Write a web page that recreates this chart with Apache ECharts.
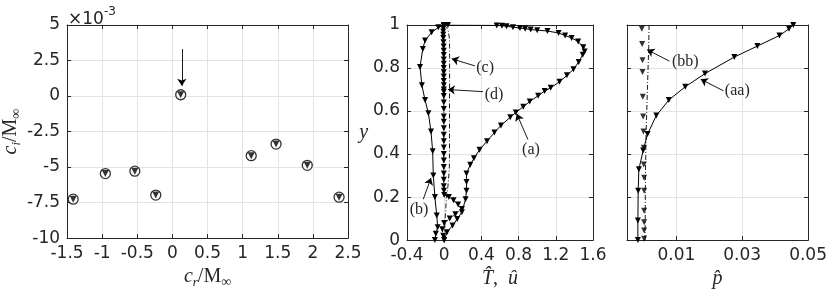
<!DOCTYPE html>
<html><head><meta charset="utf-8">
<script src="https://cdn.jsdelivr.net/npm/echarts@6/dist/echarts.min.js"></script>
<style>html,body{margin:0;padding:0;background:#fff}#c{width:830px;height:294px}</style>
</head><body><div id="c"></div>
<script>
// ---------- Left panel: eigenvalue spectrum (ci in units of 1e-3) ----------
const crValues   = [-1.413, -0.955, -0.535, -0.237, 0.118, 1.122, 1.476, 1.920, 2.373];
const ciValuesE3 = [-7.26, -5.46, -5.29, -6.97, 0.09, -4.20, -3.38, -4.88, -7.12];
const leftXTicks = [-1.5, 2.5, 0.5];   // min, max, step
const leftYTicks = [-10, 5, 2.5];

// ---------- Middle panel: T-hat, u-hat profiles ----------
const curveA_x = [0.00, 0.03, 0.09, 0.14, 0.19, 0.23, 0.24, 0.24, 0.24, 0.28, 0.32, 0.38, 0.46, 0.54, 0.61, 0.71, 0.77, 0.85, 0.92, 1.01, 1.08, 1.145, 1.24, 1.32, 1.39, 1.446, 1.49, 1.51, 1.496, 1.44, 1.37, 1.30, 1.23, 1.11, 1.00, 0.93, 0.87, 0.815, 0.74, 0.67, 0.62, 0.565, 0.04, 0.00];
const curveA_y = [0.000, 0.037, 0.068, 0.098, 0.130, 0.190, 0.230, 0.270, 0.310, 0.350, 0.380, 0.420, 0.460, 0.500, 0.533, 0.571, 0.593, 0.620, 0.644, 0.671, 0.693, 0.708, 0.736, 0.766, 0.794, 0.828, 0.862, 0.877, 0.897, 0.923, 0.940, 0.951, 0.963, 0.972, 0.976, 0.979, 0.983, 0.986, 0.990, 0.994, 0.997, 0.998, 1.000, 1.000];
const curveB_x = [0.00, -0.063, -0.135, -0.206, -0.23, -0.26, -0.24, -0.206, -0.17, -0.142, -0.124, -0.117, -0.10, -0.08, -0.07, -0.09, -0.10];
const curveB_y = [1.000, 0.989, 0.966, 0.928, 0.889, 0.805, 0.720, 0.651, 0.590, 0.505, 0.413, 0.300, 0.200, 0.114, 0.060, 0.030, 0.000];
const curveC_x = [0.00, 0.025, 0.045, 0.055, 0.058, 0.058, 0.057, 0.057, 0.055, 0.04, 0.025, 0.01, 0.00];
const curveC_y = [1.00, 0.99, 0.97, 0.94, 0.90, 0.80, 0.60, 0.40, 0.33, 0.25, 0.20, 0.10, 0.00];
const curveD_x = [0.00, -0.005, -0.01, -0.01, -0.01, -0.01, -0.008, -0.006, -0.005, -0.005, -0.005, -0.005, -0.005, -0.005, -0.005, -0.005, -0.004, -0.004, -0.004, -0.004, -0.004, -0.004, -0.004, -0.004, -0.004, -0.004, -0.004, -0.004, -0.004, -0.004, -0.004, -0.004, -0.004, -0.004, -0.003, 0.00, 0.05, 0.10, 0.15, 0.19, 0.12, 0.06, 0.00, -0.02, -0.01, 0.00];
const curveD_y = [1.000, 0.995, 0.985, 0.970, 0.955, 0.940, 0.920, 0.900, 0.880, 0.860, 0.840, 0.820, 0.800, 0.780, 0.760, 0.740, 0.720, 0.700, 0.690, 0.670, 0.640, 0.610, 0.575, 0.550, 0.520, 0.490, 0.460, 0.430, 0.400, 0.370, 0.340, 0.310, 0.280, 0.250, 0.230, 0.210, 0.200, 0.185, 0.165, 0.145, 0.120, 0.100, 0.080, 0.050, 0.020, 0.000];
const midXTicks = [-0.4, 1.6, 0.4];
const yTicks = [0, 1, 0.2];

// ---------- Right panel: p-hat profiles ----------
const curveAA_x = [-0.0017, -0.0017, -0.0016, -0.0014, -0.0001, 0.00125, 0.0039, 0.0077, 0.0127, 0.0187, 0.0276, 0.0346, 0.0413, 0.0442, 0.0455];
const curveAA_y = [0.000, 0.091, 0.229, 0.329, 0.416, 0.493, 0.579, 0.651, 0.713, 0.774, 0.851, 0.902, 0.951, 0.982, 1.000];
const curveBB_x = [0.0017, 0.0016, 0.0012, 0.0008, 0.0006, 0.0005];
const curveBB_y = [1.0, 0.9, 0.7, 0.5, 0.3, 0.0];
const curveBBm_x = [-0.0005, -0.0004, -0.0003, -0.0003, -0.0002, -0.0001, 0.0, 0.0001, 0.0001, 0.0002, 0.0002, 0.0002, 0.0002, 0.0002, 0.0002];
const curveBBm_y = [0.982, 0.912, 0.836, 0.782, 0.667, 0.575, 0.505, 0.429, 0.352, 0.290, 0.229, 0.137, 0.083, 0.045, 0.006];
const rightXRange = [-0.005, 0.05];
const rightXTickValues = [0.01, 0.03, 0.05];

const zip = (a, b) => a.map((v, i) => [v, b[i]]);

const AX = '#262626', GRID = '#e3e3e3';
const tickFont = { fontFamily: 'DejaVu Sans', fontSize: 17, color: '#262626' };
const serif = 'Liberation Serif';

function baseAxis(extra) {
  return Object.assign({
    type: 'value',
    axisLine: { show: true, onZero: false, lineStyle: { color: AX, width: 1 } },
    axisTick: { show: true, inside: true, length: 4, lineStyle: { color: AX } },
    splitLine: { show: true, lineStyle: { color: GRID, width: 1 } },
    axisLabel: Object.assign({ margin: 7 }, tickFont)
  }, extra);
}
function mirror(extra) {
  return baseAxis(Object.assign({ axisLabel: { show: false }, splitLine: { show: false } }, extra));
}

const mathRich = {
  i: { fontFamily: serif, fontStyle: 'italic', fontSize: 20, color: '#262626', lineHeight: 24 },
  r: { fontFamily: serif, fontSize: 20, color: '#262626', lineHeight: 24 },
  sub: { fontFamily: serif, fontStyle: 'italic', fontSize: 13, color: '#262626', lineHeight: 13, verticalAlign: 'bottom' },
  subr: { fontFamily: serif, fontSize: 14, color: '#262626', lineHeight: 13, verticalAlign: 'bottom' }
};

const arrowStyle = { color: '#000', width: 0.9, type: 'solid' };
function arrows(list) {
  return {
    silent: true, symbol: ['none', 'arrow'], symbolSize: 7, animation: false,
    label: { show: false }, lineStyle: arrowStyle, emphasis: { disabled: true },
    data: list.map(a => [{ coord: a[0] }, { coord: a[1] }])
  };
}
function texts(list) {
  return {
    silent: true, symbol: 'rect', symbolSize: 1, itemStyle: { color: 'rgba(0,0,0,0)' }, animation: false,
    label: { show: true, position: 'inside', fontFamily: serif, fontSize: 16, color: '#262626', formatter: p => p.name },
    data: list.map(t => ({ name: t[0], coord: t[1] }))
  };
}

const triDown = { symbol: 'triangle', symbolRotate: 180, symbolSize: 6, itemStyle: { color: '#000' } };

const option = {
  animation: false,
  backgroundColor: '#fff',
  title: {
    text: '{a|×10}{s|-3}', left: 63, top: 1,
    textStyle: { fontWeight: 'normal', rich: {
      a: { fontFamily: 'DejaVu Sans', fontWeight: 'normal', fontSize: 17, color: '#262626', lineHeight: 22, verticalAlign: 'bottom' },
      s: { fontFamily: 'DejaVu Sans', fontWeight: 'normal', fontSize: 12, color: '#262626', lineHeight: 22, verticalAlign: 'top' }
    } }
  },
  grid: [
    { left: 64, top: 25, width: 284, height: 218 },
    { left: 407, top: 25, width: 186, height: 218 },
    { left: 627, top: 25, width: 184, height: 218 }
  ],
  xAxis: [
    baseAxis({ gridIndex: 0, min: leftXTicks[0], max: leftXTicks[1], interval: leftXTicks[2],
      name: '{i|c}{sub|r}{r|/M}{subr|∞}', nameLocation: 'middle', nameGap: 20,
      nameTextStyle: { rich: mathRich } }),
    mirror({ gridIndex: 0, position: 'top', min: leftXTicks[0], max: leftXTicks[1], interval: leftXTicks[2] }),
    baseAxis({ gridIndex: 1, min: midXTicks[0], max: midXTicks[1], interval: midXTicks[2],
      name: '{i|T\u0302}{r|,  }{i|u\u0302}', nameLocation: 'middle', nameGap: 20,
      nameTextStyle: { rich: mathRich } }),
    mirror({ gridIndex: 1, position: 'top', min: midXTicks[0], max: midXTicks[1], interval: midXTicks[2] }),
    baseAxis({ gridIndex: 2, min: rightXRange[0], max: rightXRange[1],
      axisTick: { show: true, inside: true, length: 4, lineStyle: { color: AX }, customValues: rightXTickValues },
      axisLabel: Object.assign({ margin: 7, customValues: rightXTickValues }, tickFont),
      name: '{i|p\u0302}', nameLocation: 'middle', nameGap: 20,
      nameTextStyle: { rich: mathRich } }),
    mirror({ gridIndex: 2, position: 'top', min: rightXRange[0], max: rightXRange[1],
      axisTick: { show: true, inside: true, length: 4, lineStyle: { color: AX }, customValues: rightXTickValues } })
  ],
  yAxis: [
    baseAxis({ gridIndex: 0, min: leftYTicks[0], max: leftYTicks[1], interval: leftYTicks[2],
      name: '{i|c}{sub|i}{r|/M}{subr|∞}', nameLocation: 'middle', nameGap: 38, nameRotate: 90,
      nameTextStyle: { rich: mathRich } }),
    mirror({ gridIndex: 0, position: 'right', min: leftYTicks[0], max: leftYTicks[1], interval: leftYTicks[2] }),
    baseAxis({ gridIndex: 1, min: yTicks[0], max: yTicks[1], interval: yTicks[2],
      name: '{i|y}', nameLocation: 'middle', nameGap: 38, nameRotate: 0,
      nameTextStyle: { rich: mathRich } }),
    mirror({ gridIndex: 1, position: 'right', min: yTicks[0], max: yTicks[1], interval: yTicks[2] }),
    baseAxis({ gridIndex: 2, min: yTicks[0], max: yTicks[1], interval: yTicks[2], axisLabel: { show: false } }),
    mirror({ gridIndex: 2, position: 'right', min: yTicks[0], max: yTicks[1], interval: yTicks[2] })
  ],
  series: [
    // left panel: circles + inner triangles
    { type: 'scatter', xAxisIndex: 0, yAxisIndex: 0, data: zip(crValues, ciValuesE3),
      symbol: 'circle', symbolSize: 10, itemStyle: { color: '#fff', borderColor: '#000', borderWidth: 1.3 },
      markLine: arrows([[[0.134, 3.3], [0.134, 0.72]]]) },
    { type: 'scatter', xAxisIndex: 0, yAxisIndex: 0, data: zip(crValues, ciValuesE3),
      symbol: 'triangle', symbolRotate: 180, symbolSize: 7, itemStyle: { color: '#000' }, z: 3 },
    // middle panel
    { type: 'line', xAxisIndex: 2, yAxisIndex: 2, data: zip(curveC_x, curveC_y), showSymbol: false,
      lineStyle: { color: '#000', width: 0.9, type: [5, 2, 1, 2] } },
    Object.assign({ type: 'line', xAxisIndex: 2, yAxisIndex: 2, data: zip(curveD_x, curveD_y),
      lineStyle: { color: '#000', width: 0.9, type: [5, 2, 1, 2] } }, triDown),
    Object.assign({ type: 'line', xAxisIndex: 2, yAxisIndex: 2, data: zip(curveB_x, curveB_y),
      lineStyle: { color: '#000', width: 1 } }, triDown),
    Object.assign({ type: 'line', xAxisIndex: 2, yAxisIndex: 2, data: zip(curveA_x, curveA_y),
      lineStyle: { color: '#000', width: 1 },
      markLine: arrows([
        [[0.33, 0.81], [0.081, 0.843]],
        [[0.417, 0.69], [0.04, 0.70]],
        [[0.90, 0.468], [0.78, 0.587]],
        [[-0.225, 0.19], [-0.142, 0.289]]
      ]),
      markPoint: texts([
        ['(c)', [0.44, 0.80]],
        ['(d)', [0.535, 0.675]],
        ['(a)', [0.933, 0.422]],
        ['(b)', [-0.27, 0.142]]
      ]) }, triDown),
    // right panel
    { type: 'line', xAxisIndex: 4, yAxisIndex: 4, data: zip(curveBB_x, curveBB_y), showSymbol: false,
      lineStyle: { color: '#000', width: 0.9, type: [5, 2, 1, 2] } },
    Object.assign({ type: 'scatter', xAxisIndex: 4, yAxisIndex: 4, data: zip(curveBBm_x, curveBBm_y) }, triDown),
    Object.assign({ type: 'line', xAxisIndex: 4, yAxisIndex: 4, data: zip(curveAA_x, curveAA_y),
      lineStyle: { color: '#000', width: 1 },
      markLine: arrows([
        [[0.0079, 0.832], [0.00113, 0.885]],
        [[0.0243, 0.694], [0.0174, 0.748]]
      ]),
      markPoint: texts([
        ['(bb)', [0.0127, 0.83]],
        ['(aa)', [0.0285, 0.693]]
      ]) }, triDown)
  ]
};

const chart = echarts.init(document.getElementById('c'), null, { renderer: 'canvas' });
chart.setOption(option);
</script>
</body></html>
